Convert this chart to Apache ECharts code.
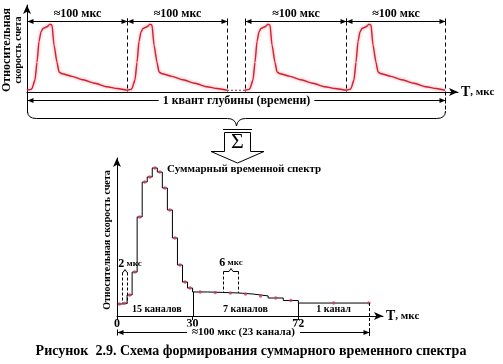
<!DOCTYPE html>
<html><head><meta charset="utf-8">
<script src="https://cdn.jsdelivr.net/npm/echarts@6/dist/echarts.min.js"></script>
<style>html,body{margin:0;padding:0;background:#fff}#c{width:503px;height:364px}</style>
</head><body><div id="c"></div>
<script>
// ---- data (top: relative count rate of individual pulses, t in мкс) ----
const pulse1T = [0,4,5,8,10,12,14,16,20,23,25,27,30,32,35,45,56,68,80,90,100];
const pulse1V = [2,3,4,14,34,58,69,73,75,78,77,54,34,23,21,18,14,10,6,4,2];
const pulse2T = [100,104,105,108,110,112,114,116,120,123,125,127,130,132,135,145,156,168,180,190,200];
const pulse2V = [2,3,4,14,34,58,69,73,75,78,77,54,34,23,21,18,14,10,6,4,2];
const pulse3T = [218,222,223,226,228,230,232,234,238,241,243,245,248,250,253,263,274,286,298,308,319];
const pulse3V = [2,3,4,14,34,58,69,73,75,78,77,54,34,23,21,18,14,10,6,4,2];
const pulse4T = [319,323,324,327,329,331,333,335,339,342,344,346,349,351,354,364,375,387,399,409,418];
const pulse4V = [2,3,4,14,34,58,69,73,75,78,77,54,34,23,21,18,14,10,6,4,2];
const gapT = [200,218];
const gapV = [2,2];
const periodMarks = [0,100,200,218,319,418];
const periodPairs = [[0,100],[100,200],[218,319],[319,418]];
const periodLabel = '≈100 мкс';
const quantLabel = '1 квант глубины (времени)';
// ---- data (bottom: summed time spectrum) ----
const channelEdges = [0,2,4,6,8,10,12,14,16,18,20,22,24,26,28,30,36,42,48,54,60,66,72,100];
const channelRates = [7.6,8.0,13.3,27.8,62.7,84.8,88.0,93.7,91.1,81.0,67.1,49.4,32.3,21.5,17.7,15.2,14.9,14.6,13.9,12.7,11.4,9.8,8.2];
const tickValues = [0,30,72];
const groupBounds = [0,30,72,100];
const groupLabels = ['15 каналов','7 каналов','1 канал'];
const totalLabel = '≈100 мкс (23 канала)';
const yTitle = 'Относительная скорость счета';
const spectrumTitle = 'Суммарный временной спектр';
const caption = 'Рисунок  2.9. Схема формирования суммарного временного спектра';

const serif = '"Liberation Serif", "DejaVu Serif", serif';
const chart = echarts.init(document.getElementById('c'), null, {renderer:'canvas'});
const pairs = (t, v) => t.map((x, i) => [x, v[i]]);
const stepData = channelEdges.map((e, i) => [e, channelRates[Math.min(i, channelRates.length - 1)]]);
const dotData = channelRates.map((r, i) => [(channelEdges[i] + channelEdges[i + 1]) / 2, r]);
dotData.push([channelEdges[channelEdges.length - 1], channelRates[channelRates.length - 1]]);

const axLine = {show:true, onZero:false, symbol:['none','arrow'], symbolSize:[6,9], lineStyle:{color:'#000', width:1}};
const pulseLine = {color:'#d2202c', width:1.4, shadowColor:'rgba(240,120,140,0.9)', shadowBlur:3};
const pulseSeries = (d) => ({type:'line', xAxisIndex:0, yAxisIndex:0, data:d, symbol:'none', smooth:0.2, smoothMonotone:'x', lineStyle:pulseLine, silent:true});

chart.setOption({
  animation:false,
  grid:[{left:27, top:5, width:431, height:87}, {left:117, top:158, width:266, height:158}],
  xAxis:[
    {gridIndex:0, type:'value', min:0, max:431, axisLine:axLine, axisTick:{show:false}, axisLabel:{show:false}, splitLine:{show:false}},
    {gridIndex:1, type:'value', min:0, max:105.6, axisLine:axLine,
     axisTick:{show:true, customValues:tickValues, length:4, lineStyle:{color:'#000'}},
     axisLabel:{show:true, customValues:tickValues, fontFamily:serif, fontWeight:'bold', fontSize:12, color:'#000', margin:2},
     splitLine:{show:false}}
  ],
  yAxis:[
    {gridIndex:0, type:'value', min:0, max:100, axisLine:axLine, axisTick:{show:false}, axisLabel:{show:false}, splitLine:{show:false}},
    {gridIndex:1, type:'value', min:0, max:100, axisLine:axLine, axisTick:{show:false}, axisLabel:{show:false}, splitLine:{show:false}}
  ],
  series:[
    pulseSeries(pairs(pulse1T, pulse1V)),
    pulseSeries(pairs(pulse2T, pulse2V)),
    pulseSeries(pairs(pulse3T, pulse3V)),
    pulseSeries(pairs(pulse4T, pulse4V)),
    {type:'line', xAxisIndex:0, yAxisIndex:0, data:pairs(gapT, gapV), symbol:'none', lineStyle:{color:'#8a2a3a', width:1.2, type:[2,2]}},
    {type:'line', xAxisIndex:1, yAxisIndex:1, data:stepData, step:'end', symbol:'none', lineStyle:{color:'#000', width:1}},
    {type:'scatter', xAxisIndex:1, yAxisIndex:1, data:dotData, symbolSize:3.5, itemStyle:{color:'#c8405e'}, z:5}
  ]
});

const P0 = (x, y) => chart.convertToPixel({gridIndex:0}, [x, y]);
const P1 = (x, y) => chart.convertToPixel({gridIndex:1}, [x, y]);
const g = [];
const line = (x1, y1, x2, y2, dash, color) => g.push({type:'line', shape:{x1, y1, x2, y2}, style:{stroke:color || '#000', lineWidth:1, lineDash:dash || null}, z:10});
const curve = (x1, y1, cx, cy, x2, y2) => g.push({type:'bezierCurve', shape:{x1, y1, cpx1:cx, cpy1:cy, x2, y2}, style:{stroke:'#000', lineWidth:1, fill:null}, z:10});
const head = (x, y, dir) => g.push({type:'polygon', shape:{points:[[x, y], [x - dir * 6, y - 2.5], [x - dir * 6, y + 2.5]]}, style:{fill:'#000'}, z:10});
const text = (x, y, s, font, extra) => g.push(Object.assign({type:'text', x, y, z:12, style:Object.assign({text:s, font, fill:'#000', align:'center', verticalAlign:'middle'}, (extra && extra.style) || {})}, (extra && extra.el) || {}));
const hArrow = (x1, x2, y) => { line(x1, y, x2, y); head(x1, y, -1); head(x2, y, 1); line(x1, y - 3, x1, y + 3); line(x2, y - 3, x2, y + 3); };

// --- top diagram ---
const yTopArrow = 21.5, yQuant = 100.5, base0 = P0(0, 0)[1];
const x0 = P0(0, 0)[0];
line(x0 + 0.5, base0, x0 + 0.5, 113);
periodMarks.slice(1).forEach((t, i, arr) => {
  const x = Math.round(P0(t, 0)[0]) + 0.5;
  line(x, yTopArrow, x, i === arr.length - 1 ? 113 : base0, [4, 3]);
});
periodPairs.forEach(([a, b]) => {
  const xa = P0(a, 0)[0] + 0.5, xb = P0(b, 0)[0] + 0.5;
  hArrow(xa, xb, yTopArrow);
  text((xa + xb) / 2, 14, periodLabel, 'bold 12px ' + serif);
});
{
  const xa = P0(periodMarks[0], 0)[0] + 0.5, xb = P0(periodMarks[periodMarks.length - 1], 0)[0] + 0.5;
  hArrow(xa, xb, yQuant);
  text((xa + xb) / 2, yQuant, quantLabel, 'bold 12px ' + serif, {style:{backgroundColor:'#fff', padding:[0, 4]}});
  const cx = (xa + xb) / 2, yl = 118.5;
  curve(xa, 111, xa, yl, xa + 9, yl);
  line(xa + 9, yl, cx - 9, yl);
  curve(cx - 9, yl, cx - 1, yl, cx, 126);
  curve(cx, 126, cx + 1, yl, cx + 9, yl);
  line(cx + 9, yl, xb - 9, yl);
  curve(xb - 9, yl, xb, yl, xb, 111);
}
text(7, 50, 'Относительная', 'bold 12px ' + serif, {el:{rotation:Math.PI / 2}});
text(18, 50, 'скорость счета', 'bold 10px ' + serif, {el:{rotation:Math.PI / 2}});
g.push({type:'text', x:461, y:92, z:12, style:{text:'{a|T}{b|, мкс}', align:'left', verticalAlign:'middle', rich:{a:{font:'bold 14px ' + serif, fill:'#000'}, b:{font:'bold 11px ' + serif, fill:'#000'}}}});

// --- sigma block arrow ---
line(223, 129.5, 252, 129.5);
g.push({type:'polygon', z:10, shape:{points:[[224.5,132.5],[224.5,151.5],[211,151.5],[237.5,163],[264,151.5],[250.5,151.5],[250.5,132.5]]}, style:{stroke:'#000', lineWidth:1, fill:'#fff'}});
text(237.5, 142, 'Σ', '22px ' + serif);

// --- bottom diagram ---
const base1 = P1(0, 0)[1];
text(167, 169, spectrumTitle, 'bold 11px ' + serif, {style:{align:'left'}});
text(107, 240, yTitle, 'bold 10px ' + serif, {el:{rotation:Math.PI / 2}});
g.push({type:'text', x:386, y:316, z:12, style:{text:'{a|T}{b|, мкс}', align:'left', verticalAlign:'middle', rich:{a:{font:'bold 14px ' + serif, fill:'#000'}, b:{font:'bold 11px ' + serif, fill:'#000'}}}});
[1, 2].forEach(k => {
  const b = groupBounds[k];
  const idx = channelEdges.indexOf(b);
  const p = P1(b, channelRates[idx]);
  const x = Math.round(p[0]) + 0.5;
  line(x, base1, x, p[1]);
});
groupLabels.forEach((s, k) => {
  const xm = P1((groupBounds[k] + groupBounds[k + 1]) / 2, 0)[0];
  text(xm + (k === 0 ? 2 : 0), 309.5, s, 'bold 10px ' + serif);
});
{
  const last = channelEdges[channelEdges.length - 1];
  const p = P1(last, channelRates[channelRates.length - 1]);
  const x = Math.round(p[0]) + 0.5;
  line(x, p[1], x, 337, [3, 2]);
  const xl = P1(0, 0)[0] + 0.5;
  hArrow(xl, x, 332.5);
  text((xl + x) / 2, 332, totalLabel, 'bold 11px ' + serif, {style:{backgroundColor:'#fff', padding:[0, 5]}});
}
const bracket = (i, topY, label, labelX) => {
  const a = Math.round(P1(channelEdges[i], 0)[0]) + 0.5, b = Math.round(P1(channelEdges[i + 1], 0)[0]) + 0.5;
  const yb = P1(0, channelRates[i])[1];
  line(a, topY, a, yb, [3, 2]);
  line(b, topY, b, yb, [3, 2]);
  const m = (a + b) / 2;
  g.push({type:'polyline', z:10, shape:{points:[[a, topY], [m - 2, topY], [m, topY - 3], [m + 2, topY], [b, topY]]}, style:{stroke:'#000', lineWidth:1, fill:null}});
  g.push({type:'text', x:labelX != null ? labelX : m, y:topY - 9, z:12, style:{text:'{a|' + label[0] + '}{b|' + label.slice(1) + '}', align:'center', verticalAlign:'middle', rich:{a:{font:'bold 12px ' + serif, fill:'#000'}, b:{font:'bold 9px ' + serif, fill:'#000'}}}});
};
bracket(1, 272.5, '2 мкс', 130);
bracket(17, 271.5, '6 мкс');

text(251, 351, caption, 'bold 14px ' + serif);

chart.setOption({graphic:{elements:g}});
</script></body></html>
